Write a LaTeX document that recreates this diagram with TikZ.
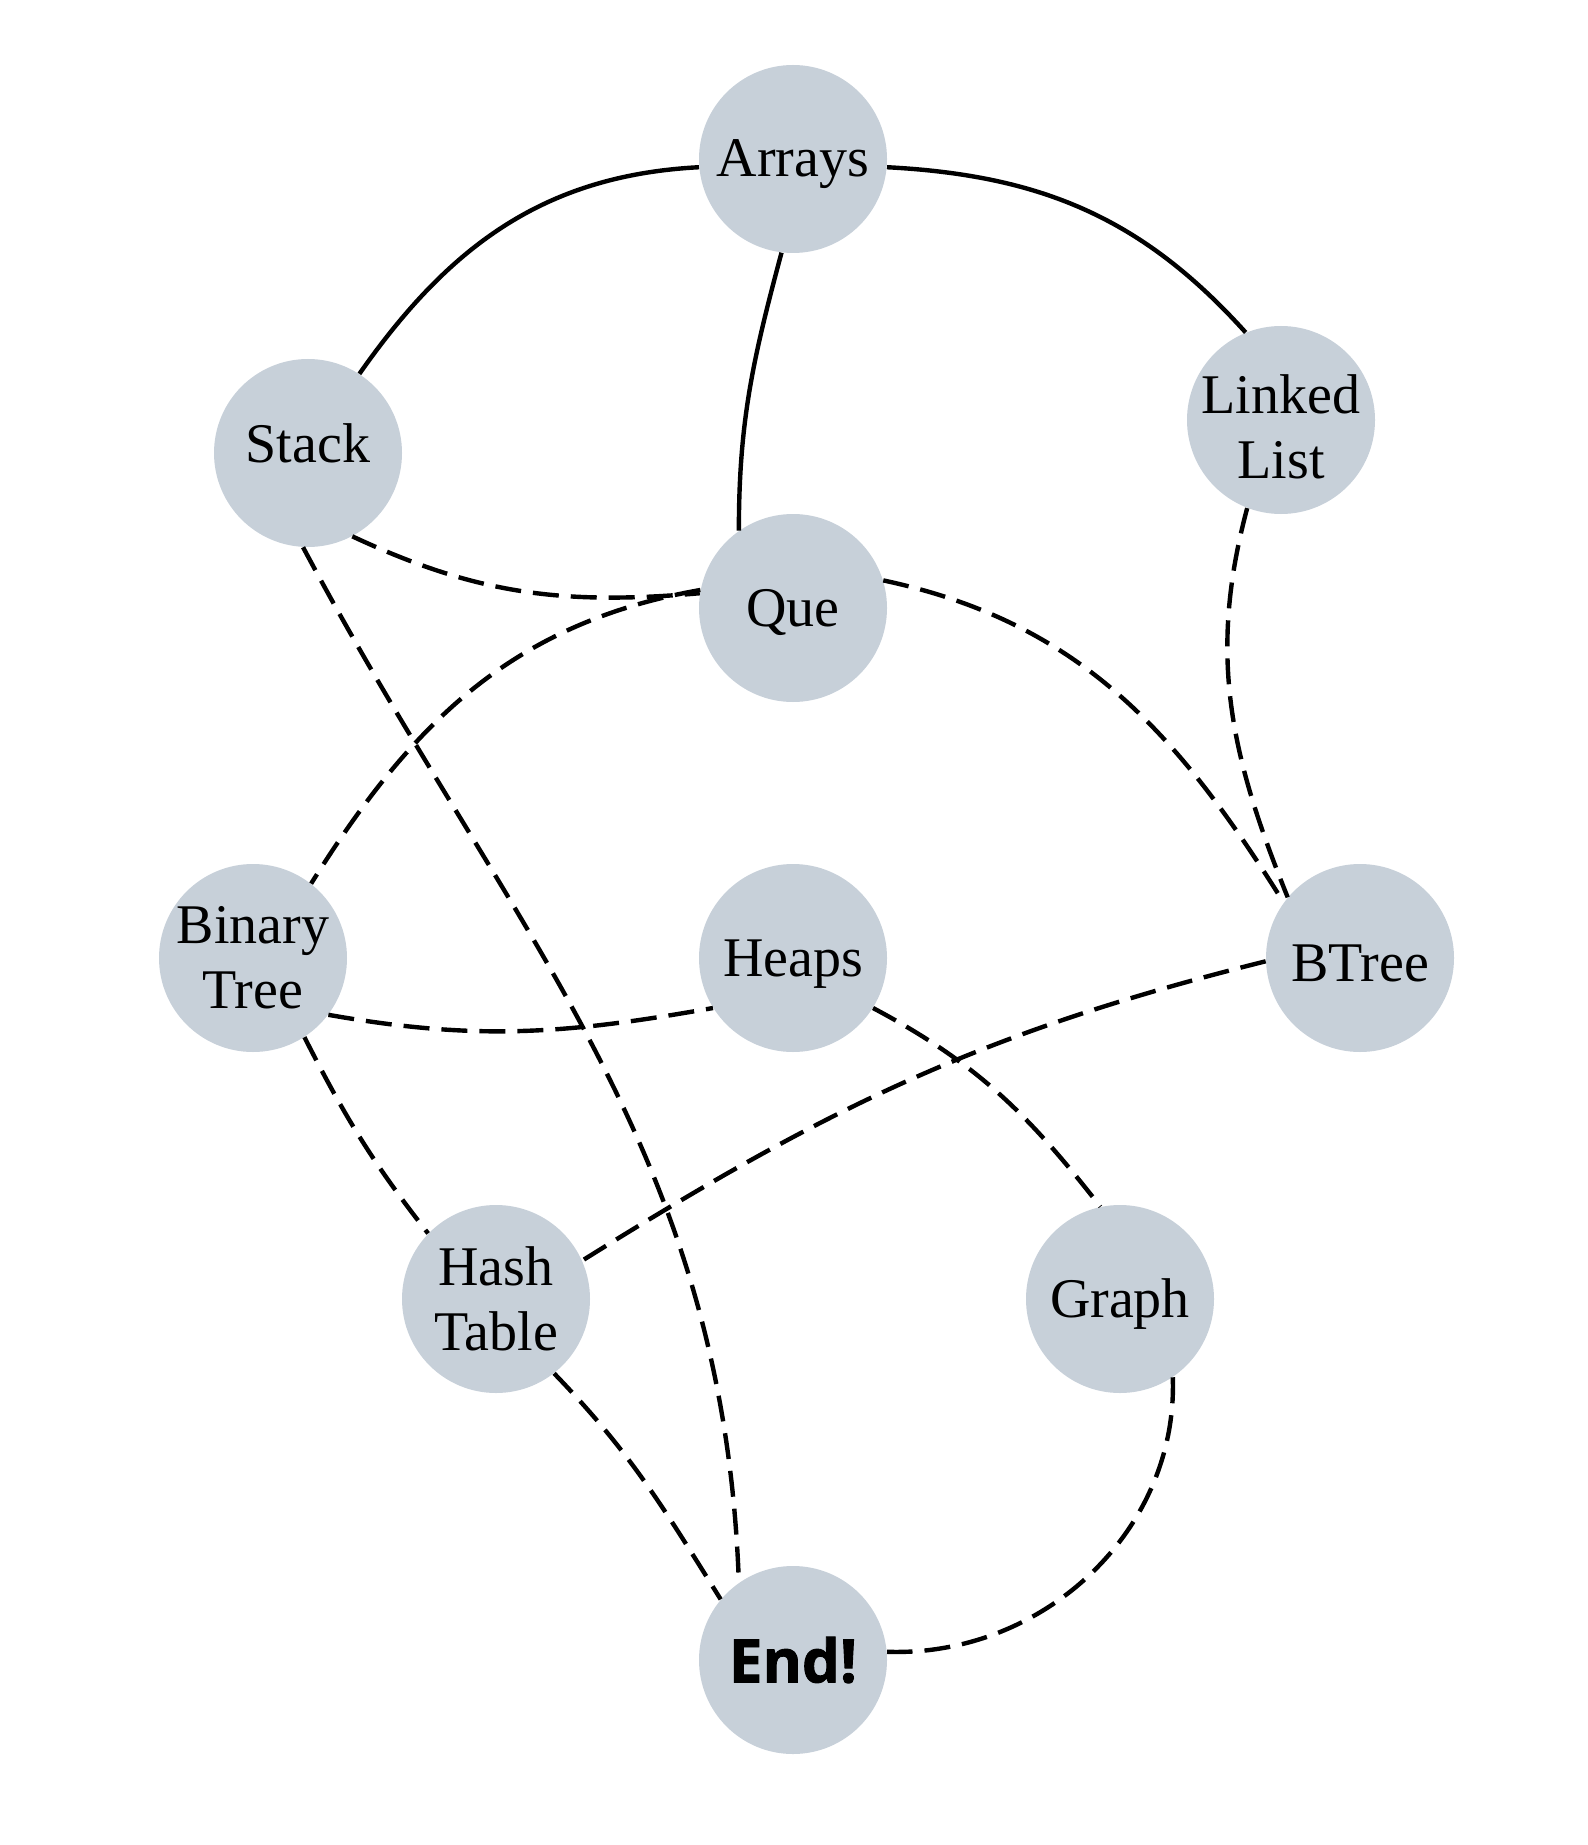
\documentclass[tikz,border=0pt]{standalone}
\usepackage{fontspec}
\setmainfont{Liberation Serif}
\newfontfamily\endfont[BoldFeatures={FakeBold=1.5}]{Open Sans}
\definecolor{nodefill}{RGB}{199,208,217}
\begin{document}
\begin{tikzpicture}[x=0.5pt,y=-0.5pt,
  ds/.style={circle, fill=nodefill, minimum size=94pt, inner sep=0pt, align=center,
    font=\fontsize{28}{32.5}\selectfont},
  oneline/.style={text height=#1, text depth=0pt},
  oneline/.default=18pt,
  solidedge/.style={line width=2.2pt},
  dashedge/.style={line width=2.2pt, dash pattern=on 13pt off 6pt}]
\useasboundingbox (0,0) rectangle (1587,1845);
\node[ds, oneline] (arrays) at (793,159) {Arrays};
\node[ds, oneline=10pt] (stack) at (308,453) {Stack};
\node[ds, text height=58.5pt, text depth=0pt, inner sep=-6pt] (ll) at (1281,420) {Linked\\List};
\node[ds, oneline] (que) at (793,608) {Que};
\node[ds] (bt) at (253,958) {Binary\\Tree};
\node[ds, oneline] (heaps) at (793,958) {Heaps};
\node[ds, oneline=23pt] (btree) at (1360,958) {BTree};
\node[ds] (ht) at (496,1299) {Hash\\Table};
\node[ds, oneline] (graph) at (1120,1299) {Graph};
\node[ds, font=\endfont\bfseries\fontsize{30}{36}\selectfont] (end) at (793,1660) {End!};

\draw[solidedge] (arrays.185) to[out=183,in=55] (stack.57);
\draw[solidedge] (arrays.-5) to[out=-3,in=132] (ll.112);
\draw[solidedge] (arrays.263) to[out=-105,in=90] (que.125);
\draw[dashedge] (stack.-62) to[out=-25,in=185] (que.171);
\draw[dashedge] (stack.267) to[out=-62,in=92] (end.125);
\draw[dashedge] (que.169) to[out=190,in=58] (bt.52);
\draw[dashedge] (que.17) to[out=-12,in=122] (btree.144);
\draw[dashedge] (ll.249) to[out=-105,in=112] (btree.140);
\draw[dashedge] (bt.-37) to[out=-10,in=190] (heaps.212);
\draw[dashedge] (bt.-57) to[out=-63,in=128] (ht.136);
\draw[dashedge] (btree.182) to[out=194,in=32] (ht.24);
\draw[dashedge] (heaps.-32) to[out=-28,in=128] (graph.102);
\draw[dashedge] (ht.-52) to[out=-46,in=122] (end.140);
\draw[dashedge] (graph.-56) to[out=-88,in=-2] (end.5);
\end{tikzpicture}
\end{document}
